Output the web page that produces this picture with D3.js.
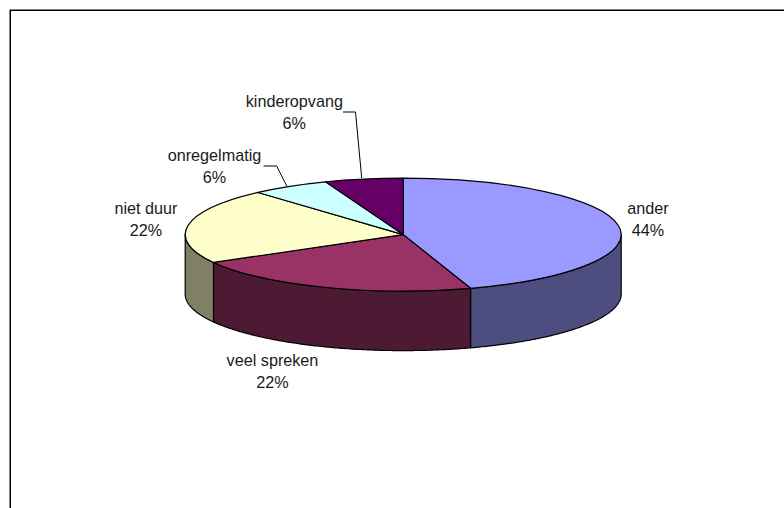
<!DOCTYPE html>
<html>
<head>
<meta charset="utf-8">
<script src="https://cdn.jsdelivr.net/npm/d3@7"></script>
<style>
  html, body { margin: 0; padding: 0; background: #fff; overflow: hidden; }
  svg { display: block; }
  text { font-family: "Liberation Sans", Arial, sans-serif; font-size: 16.2px; fill: #1a1a1a; }
</style>
</head>
<body>
<div id="chart"></div>
<script>
const categories = ['ander', 'veel spreken', 'niet duur', 'onregelmatig', 'kinderopvang'];
// Shares as they look on the tilted pie, printed labels kept apart
const values = [45, 21.8, 21.6, 5.8, 5.8];
const percentLabels = ['44%', '22%', '22%', '6%', '6%'];
const topColors = ['#9999FF', '#993366', '#FFFFCC', '#CCFFFF', '#660066'];
const sideColors = ['#4D4D80', '#4D1A33', '#808066', '#668080', '#330033'];

const width = 784;
const height = 508;

// Geometry of the tilted pie
const cx = 403.2;
const cy = 234.6;
const rx = 218;
const ry = 56.5;
const depth = 59.5;

const svg = d3
  .select('#chart')
  .append('svg')
  .attr('width', width)
  .attr('height', height)
  .attr('viewBox', `0 0 ${width} ${height}`);

// Frame: only the left and top edges fall inside the picture
svg
  .append('path')
  .attr('d', d3.line()([[10.25, height], [10.25, 10.25], [width, 10.25]]))
  .attr('fill', 'none')
  .attr('stroke', '#000')
  .attr('stroke-width', 1.5);

const pie = d3.pie().sort(null).value((d) => d.value);
const slices = pie(
  categories.map((name, i) => ({ name, value: values[i], i }))
);

// Point on the ellipse for a pie angle (0 = top, clockwise)
const px = (a) => rx * Math.sin(a);
const py = (a) => -ry * Math.cos(a);

// Side walls: only the front half of the pie is visible
const frontStart = Math.PI / 2;
const frontEnd = (3 * Math.PI) / 2;
const sideLine = d3.line();

const sides = svg.append('g').attr('transform', `translate(${cx}, ${cy})`);
slices.forEach((d) => {
  const a0 = Math.max(d.startAngle, frontStart);
  const a1 = Math.min(d.endAngle, frontEnd);
  if (a1 <= a0) return;
  const angles = d3.range(a0, a1, 0.01).concat([a1]);
  const upper = angles.map((a) => [px(a), py(a)]);
  const lower = angles
    .slice()
    .reverse()
    .map((a) => [px(a), py(a) + depth]);
  sides
    .append('path')
    .attr('d', sideLine(upper.concat(lower)) + 'Z')
    .attr('fill', sideColors[d.data.i])
    .attr('stroke', '#000')
    .attr('stroke-width', 1.2)
    .attr('stroke-linejoin', 'round');
});

// Top face: a normal arc squashed vertically
const arc = d3.arc().innerRadius(0).outerRadius(rx);
svg
  .append('g')
  .attr('transform', `translate(${cx}, ${cy}) scale(1, ${ry / rx})`)
  .selectAll('path')
  .data(slices)
  .join('path')
  .attr('d', arc)
  .attr('fill', (d) => topColors[d.data.i])
  .attr('stroke', '#000')
  .attr('stroke-width', 1.2)
  .attr('vector-effect', 'non-scaling-stroke')
  .attr('stroke-linejoin', 'round');

// Labels (name on first line, share on second)
const labelPos = [
  [648, 214],
  [272.5, 366],
  [146, 214],
  [214.5, 160.5],
  [294.3, 106.5],
];
const labels = svg
  .append('g')
  .selectAll('text')
  .data(slices)
  .join('text')
  .attr('text-anchor', 'middle');
labels
  .append('tspan')
  .attr('x', (d) => labelPos[d.data.i][0])
  .attr('y', (d) => labelPos[d.data.i][1])
  .text((d) => d.data.name);
labels
  .append('tspan')
  .attr('x', (d) => labelPos[d.data.i][0])
  .attr('y', (d) => labelPos[d.data.i][1] + 22)
  .text((d) => percentLabels[d.data.i]);

// Leader lines for the two small slices
const leaders = [
  [[343, 112], [355.5, 112], [361.7, 178]],
  [[263.5, 166], [276.7, 166], [286.7, 186]],
];
svg
  .append('g')
  .selectAll('path')
  .data(leaders)
  .join('path')
  .attr('d', d3.line())
  .attr('fill', 'none')
  .attr('stroke', '#000')
  .attr('stroke-width', 1);
</script>
</body>
</html>
